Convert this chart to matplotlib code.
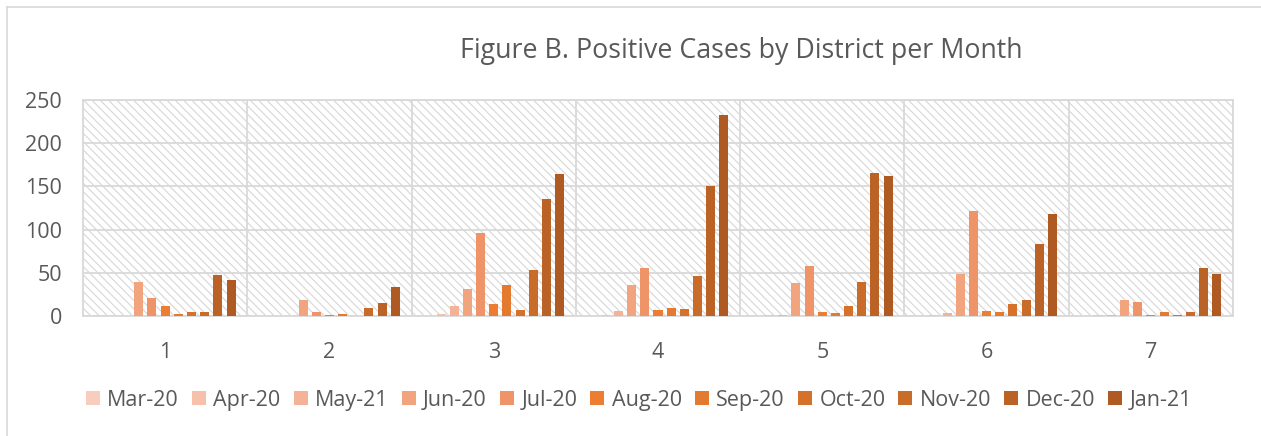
import matplotlib
matplotlib.use("Agg")
import matplotlib.pyplot as plt
from matplotlib.patches import Rectangle, Patch
from matplotlib.lines import Line2D
import numpy as np

plt.rcParams['font.family'] = ['Open Sans', 'DejaVu Sans']
plt.rcParams['hatch.linewidth'] = 0.8

districts = ['1', '2', '3', '4', '5', '6', '7']
months = ['Mar-20', 'Apr-20', 'May-21', 'Jun-20', 'Jul-20', 'Aug-20',
          'Sep-20', 'Oct-20', 'Nov-20', 'Dec-20', 'Jan-21']

mar20 = [1, 0, 0, 0, 0, 0, 0]
apr20 = [0, 0, 2, 1, 1, 1, 1]
may21 = [0, 0, 12, 6, 1, 3, 1]
jun20 = [39, 18, 31, 36, 38, 49, 19]
jul20 = [21, 5, 96, 56, 58, 122, 16]
aug20 = [11, 1, 14, 7, 5, 6, 1]
sep20 = [2, 2, 36, 9, 3, 5, 5]
oct20 = [5, 0, 7, 8, 12, 14, 1]
nov20 = [5, 9, 53, 46, 39, 18, 5]
dec20 = [48, 15, 135, 150, 165, 83, 56]
jan21 = [42, 34, 164, 233, 162, 118, 49]

series = [mar20, apr20, may21, jun20, jul20, aug20, sep20, oct20, nov20, dec20, jan21]
colors = ['#F8CDBE', '#F6C0AA', '#F4B296', '#F2A47E', '#EF9468', '#ED7D31',
          '#E37A30', '#D6712C', '#C96B29', '#BB6226', '#AE5A22']

W, H = 1261, 436
fig = plt.figure(figsize=(W / 100, H / 100), dpi=100)
ax = fig.add_axes([83 / W, 1 - 316 / H, (1233 - 83) / W, (316 - 100) / H])

grid_c = '#D9D9D9'
text_c = '#595959'

# hatched plot-area background
bg = Rectangle((0, 0), 1, 1, transform=ax.transAxes, facecolor='white',
               edgecolor='#D6D6D6', hatch='\\\\\\\\', linewidth=0, zorder=0)
ax.add_patch(bg)

x = np.arange(1, len(districts) + 1)
slot = 0.0802
bw = 0.0548
n = len(series)
for k, (vals, c) in enumerate(zip(series, colors)):
    ax.bar(x + (k - (n - 1) / 2) * slot, vals, width=bw, color=c,
           label=months[k], zorder=3)

ax.set_xlim(0.5, len(districts) + 0.5)
ax.set_ylim(0, 250)
ax.set_yticks(np.arange(0, 251, 50))
ax.set_xticks(x)
ax.set_xticklabels(districts)
ax.set_xticks(np.arange(0.5, len(districts) + 1, 1), minor=True)

ax.grid(axis='y', which='major', color=grid_c, linewidth=1.3, zorder=1)
ax.grid(axis='x', which='minor', color=grid_c, linewidth=1.3, zorder=1)
ax.set_axisbelow(True)
for s in ax.spines.values():
    s.set_color(grid_c)
    s.set_linewidth(1.3)

ax.tick_params(axis='both', which='both', length=0, labelsize=15.5, labelcolor=text_c)
ax.tick_params(axis='y', pad=15)
ax.tick_params(axis='x', pad=19)

fig.text(741 / W, 1 - 58 / H, 'Figure B. Positive Cases by District per Month',
         ha='center', va='baseline', fontsize=19.3, color=text_c)

handles = [Patch(facecolor=c, edgecolor='none') for c in colors]
fig.legend(handles, months, loc='center', bbox_to_anchor=(639 / W, 1 - 400 / H),
           ncol=n, frameon=False, fontsize=15.5, labelcolor=text_c,
           handlelength=0.65, handleheight=0.65, handletextpad=0.35,
           columnspacing=0.6, borderaxespad=0, borderpad=0)

# outer chart border (top and left visible)
fig.add_artist(Line2D([7 / W, 7 / W], [0, 1 - 7 / H], transform=fig.transFigure,
                      color=grid_c, linewidth=1.2))
fig.add_artist(Line2D([7 / W, 1], [1 - 7 / H, 1 - 7 / H], transform=fig.transFigure,
                      color=grid_c, linewidth=1.2))

fig.savefig('out.png', dpi=100)
